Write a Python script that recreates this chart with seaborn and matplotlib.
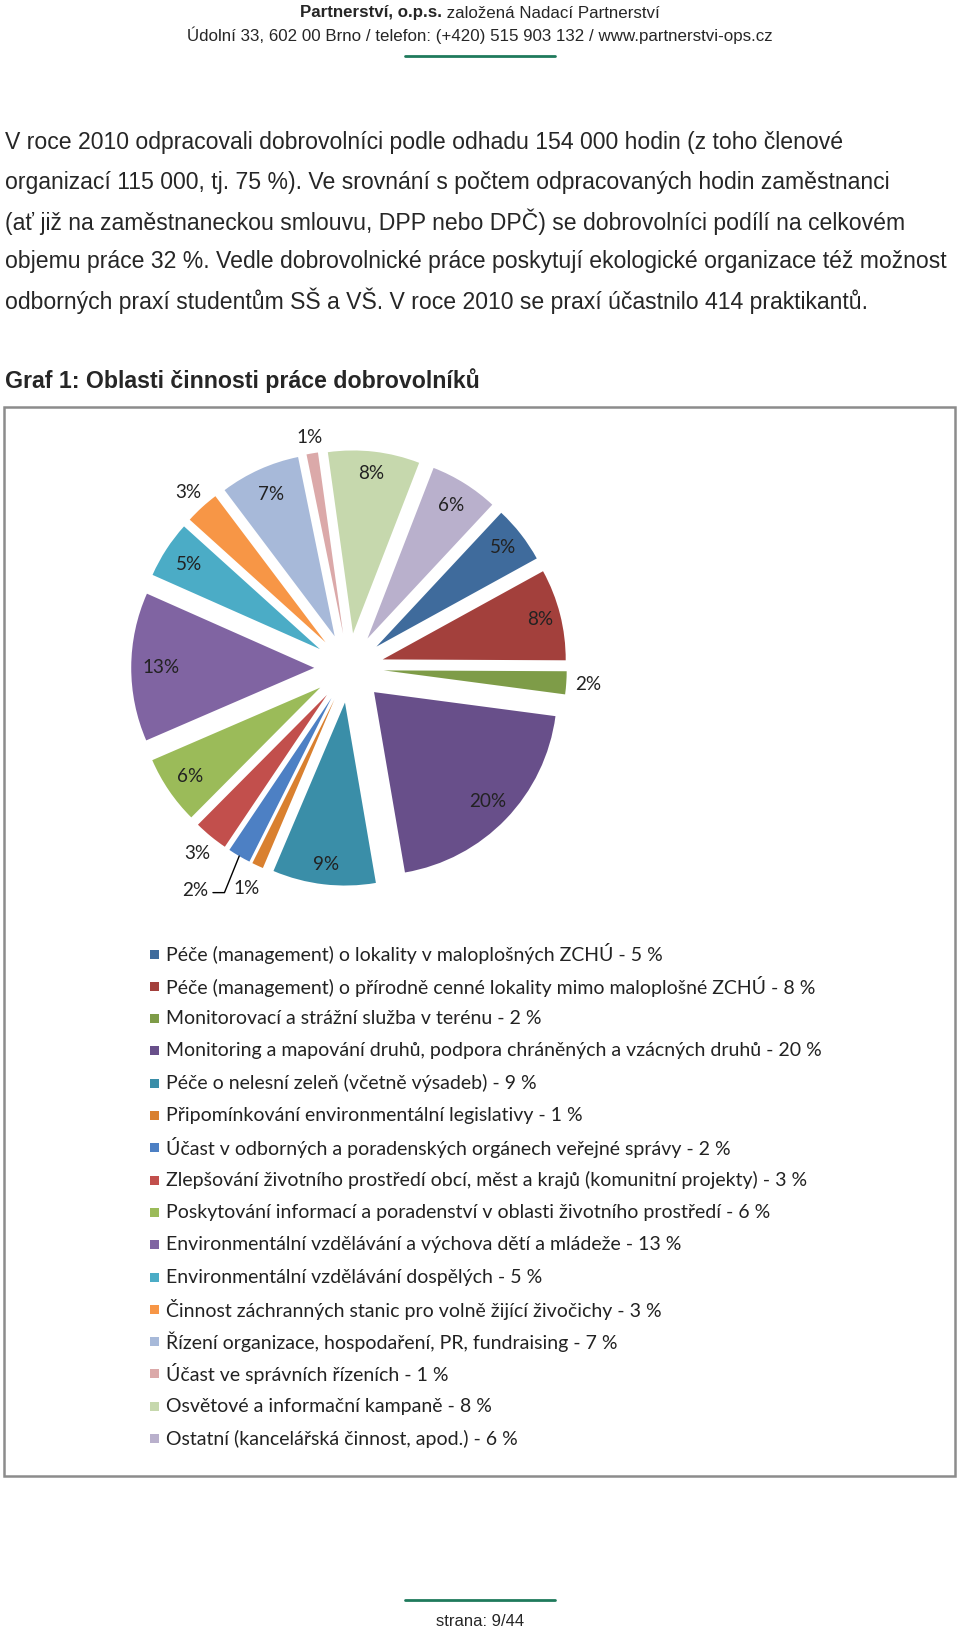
import numpy as np
import seaborn as sns
import matplotlib.pyplot as plt
from matplotlib import font_manager
from matplotlib.patches import Rectangle
from matplotlib.lines import Line2D

# Data: share of volunteer work by area (%), in pie order (clockwise)
categories = [
    'Péče (management) o lokality v maloplošných ZCHÚ',
    'Péče (management) o přírodně cenné lokality mimo maloplošné ZCHÚ',
    'Monitorovací a strážní služba v terénu',
    'Monitoring a mapování druhů, podpora chráněných a vzácných druhů',
    'Péče o nelesní zeleň (včetně výsadeb)',
    'Připomínkování environmentální legislativy',
    'Účast v odborných a poradenských orgánech veřejné správy',
    'Zlepšování životního prostředí obcí, měst a krajů (komunitní projekty)',
    'Poskytování informací a poradenství v oblasti životního prostředí',
    'Environmentální vzdělávání a výchova dětí a mládeže',
    'Environmentální vzdělávání dospělých',
    'Činnost záchranných stanic pro volně žijící živočichy',
    'Řízení organizace, hospodaření, PR, fundraising',
    'Účast ve správních řízeních',
    'Osvětové a informační kampaně',
    'Ostatní (kancelářská činnost, apod.)',
]
shares = [5, 8, 2, 20, 9, 1, 2, 3, 6, 13, 5, 3, 7, 1, 8, 6]

slice_colors = ['#3f6b9c', '#a3403c', '#7e9c48', '#684f8a', '#3a8ea8', '#d9802f',
                '#4d80c4', '#c24f4c', '#9bbb59', '#8064a2', '#4bacc6', '#f79646',
                '#a7b9d9', '#dba9a9', '#c6d8ad', '#b9b0cc']

# label placement (distance from pie centre, in radii) - small slices go outside
# None = label with a leader line
label_dist = [1.07, 1.08, 1.31, 1.05, 1.08, 1.33, None, 1.31,
              1.05, 1.03, 1.04, 1.30, 1.04, 1.28, 1.07, 1.05]

header_1b = 'Partnerství, o.p.s.'
header_1 = ' založená Nadací Partnerství'
header_2 = 'Údolní 33, 602 00 Brno / telefon: (+420) 515 903 132 / www.partnerstvi-ops.cz'
paragraph = [
    'V roce 2010 odpracovali dobrovolníci podle odhadu 154 000 hodin (z toho členové',
    'organizací 115 000, tj. 75 %). Ve srovnání s počtem odpracovaných hodin zaměstnanci',
    '(ať již na zaměstnaneckou smlouvu, DPP nebo DPČ) se dobrovolníci podílí na celkovém',
    'objemu práce 32 %. Vedle dobrovolnické práce poskytují ekologické organizace též možnost',
    'odborných praxí studentům SŠ a VŠ. V roce 2010 se praxí účastnilo 414 praktikantů.',
]
chart_title = 'Graf 1: Oblasti činnosti práce dobrovolníků'
footer = 'strana: 9/44'


def pick_font(names):
    for n in names:
        try:
            font_manager.findfont(n, fallback_to_default=False)
            return n
        except Exception:
            pass
    return 'DejaVu Sans'


sans = pick_font(['Liberation Sans', 'DejaVu Sans'])
calib = pick_font(['Lato', 'Open Sans', 'DejaVu Sans'])

sns.set_style('white')
plt.rcParams['font.family'] = [sans, 'DejaVu Sans']

W, H = 960, 1630
fig = plt.figure(figsize=(W / 100, H / 100), dpi=100)


def fx(x):
    return x / W


def fy(y):
    return 1 - y / H


# page header / footer
green = '#1f7a5c'
fig.text(fx(442), fy(13), header_1b, ha='right', va='center', fontsize=12.2,
         fontweight='bold')
fig.text(fx(442), fy(13), header_1, ha='left', va='center', fontsize=12.2)
fig.text(fx(480), fy(35), header_2, ha='center', va='center', fontsize=12.2)
fig.add_artist(Line2D([fx(405), fx(555)], [fy(56), fy(56)], color=green, lw=2))
fig.add_artist(Line2D([fx(405), fx(555)], [fy(1600), fy(1600)], color=green, lw=2))
fig.text(fx(480), fy(1622), footer, ha='center', va='center', fontsize=12)

for i, line in enumerate(paragraph):
    fig.text(fx(5), fy(143 + i * 39.5), line, ha='left', va='center', fontsize=16.6)

fig.text(fx(5), fy(381), chart_title, ha='left', va='center', fontsize=16.7,
         fontweight='bold')

# chart frame
fig.add_artist(Rectangle((fx(4), fy(1476)), fx(955) - fx(4), fy(407) - fy(1476),
                         transform=fig.transFigure, fill=False,
                         edgecolor='#8c8c8c', lw=1.8))

# pie
cx, cy, half = 349, 668, 290
r_px = 183
lim = half / r_px
ax = fig.add_axes([fx(cx - half), fy(cy + half), 2 * half / W, 2 * half / H])

expl = 0.19
wedges, _ = ax.pie(shares, colors=slice_colors, startangle=47, counterclock=False,
                   explode=[expl] * len(shares), radius=1,
                   wedgeprops=dict(linewidth=0))
ax.set_xlim(-lim, lim)
ax.set_ylim(-lim, lim)
ax.set_aspect('equal')
ax.axis('off')

lab_font = dict(fontsize=13.6, family=[calib, 'DejaVu Sans'], color='#222222')
for w, val, d in zip(wedges, shares, label_dist):
    ang = np.deg2rad((w.theta1 + w.theta2) / 2)
    if d is None:
        ox, oy = (1 + expl) * np.cos(ang), (1 + expl) * np.sin(ang)
        ax.annotate(f'{val}%', xy=(ox, oy), xytext=(-44, -34),
                    textcoords='offset pixels', ha='center', va='center',
                    arrowprops=dict(arrowstyle='-', color='black', lw=1,
                                    relpos=(1.0, 0.35), shrinkA=1, shrinkB=0,
                                    connectionstyle='angle,angleA=0,angleB=68,rad=0'),
                    **lab_font)
    else:
        ax.text(d * np.cos(ang), d * np.sin(ang), f'{val}%', ha='center',
                va='center', **lab_font)

# legend, one row per category
row0, row_step = 954, 32.3
for i, (c, v, col) in enumerate(zip(categories, shares, slice_colors)):
    y = row0 + i * row_step
    fig.add_artist(Rectangle((fx(150), fy(y + 4.5)), 9 / W, 9 / H,
                             transform=fig.transFigure, facecolor=col, lw=0))
    fig.text(fx(166), fy(y), f'{c} - {v} %', ha='left', va='center', fontsize=14,
             family=[calib, 'DejaVu Sans'], color='#222222')

fig.savefig('out.png', dpi=100)
